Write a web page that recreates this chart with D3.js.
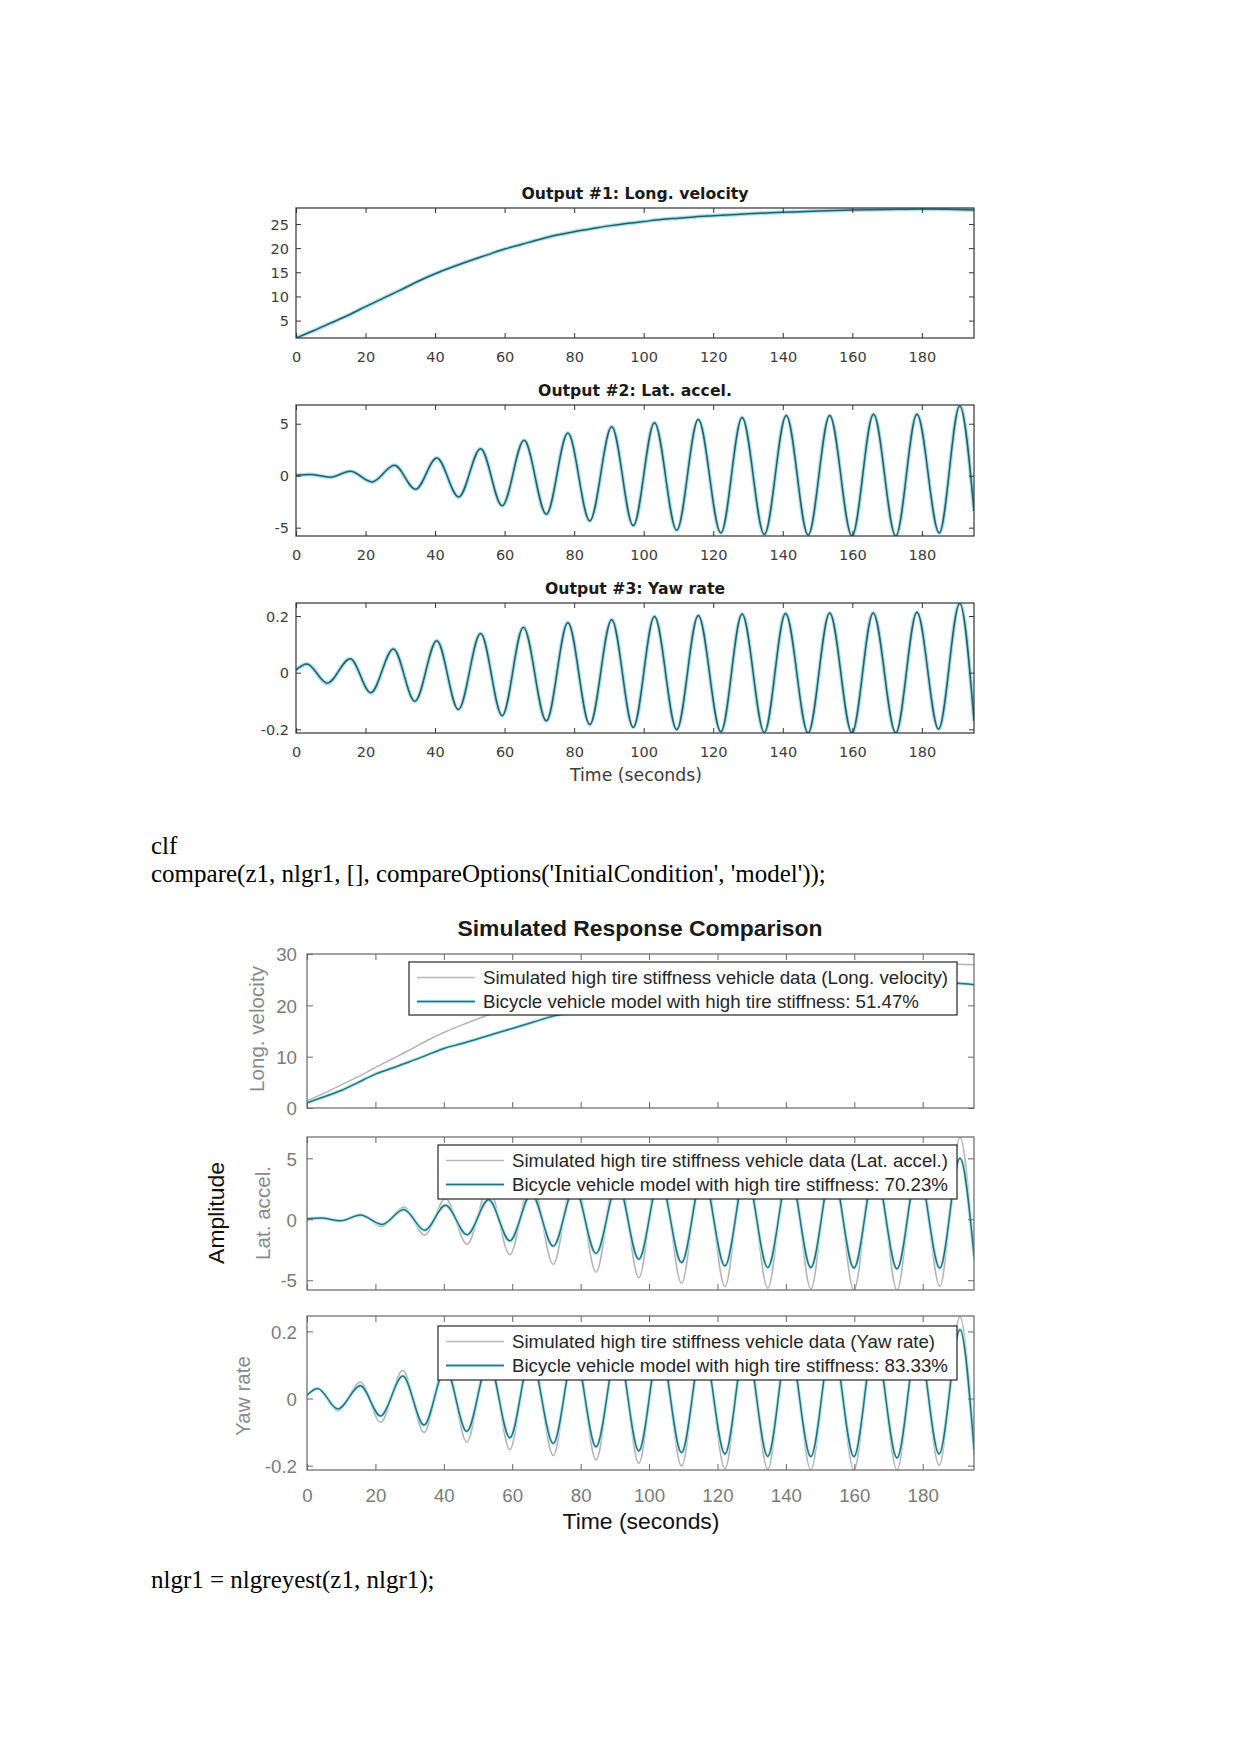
<!DOCTYPE html>
<html><head><meta charset="utf-8">
<script src="https://cdn.jsdelivr.net/npm/d3@7"></script>
<style>body{margin:0;background:#fff}</style>
</head><body>
<svg id="page" width="1240" height="1754" xmlns="http://www.w3.org/2000/svg"></svg>
<script>
// ---------------- data ----------------
const timeTicks = [0, 20, 40, 60, 80, 100, 120, 140, 160, 180];
const velTicksTop = [5, 10, 15, 20, 25];
const velTicksBottom = [0, 10, 20, 30];
const latTicks = [-5, 0, 5];
const yawTicks = [-0.2, 0, 0.2];

// Longitudinal velocity (measured data)
const velTime = [0,5,10,15,20,25,30,35,40,45,50,55,60,65,70,75,80,85,90,95,100,105,110,115,120,125,130,140,150,160,170,180,190,195];
const velData = [1.4,2.9,4.5,6.1,7.9,9.6,11.3,13.1,14.7,16.1,17.4,18.6,19.8,20.8,21.8,22.7,23.4,24.0,24.6,25.1,25.5,25.9,26.2,26.5,26.7,26.9,27.1,27.4,27.7,27.9,28.0,28.1,28.0,27.9];
// Longitudinal velocity (model)
const velModelTime = [0,5,10,15,20,25,30,35,40,45,50,55,60,66,72,80,90,100,110,120,130,140,150,160,170,180,190,195];
const velModel = [1.0,2.2,3.4,5.0,6.6,7.8,9.0,10.3,11.6,12.5,13.5,14.5,15.5,16.7,17.9,19.0,20.2,21.1,21.9,22.5,23.0,23.4,23.7,23.9,24.1,24.2,24.3,24.0];

// Lateral acceleration (extrema)
const latTime = [0,4,9.9,15.6,21.9,28.3,34.4,40.5,46.8,53.1,59.3,65.6,72.0,78.2,84.5,90.8,97.0,103.1,109.5,115.7,122.2,128.3,134.7,141.0,147.3,153.5,159.9,166.1,172.5,178.6,185.0,190.9,195];
const latData = [0.05,0.12,-0.15,0.42,-0.6,1.0,-1.3,1.7,-2.05,2.6,-2.9,3.4,-3.7,4.1,-4.35,4.7,-4.8,5.1,-5.25,5.4,-5.5,5.6,-5.65,5.8,-5.7,5.8,-5.8,5.9,-5.8,5.9,-5.5,6.7,-3.4];
const latModel = [0.05,0.1,-0.12,0.35,-0.42,0.8,-0.9,1.15,-1.26,1.6,-1.77,2.1,-2.2,2.6,-2.8,3.0,-3.28,3.4,-3.55,3.7,-3.82,3.9,-3.95,4.0,-3.95,4.1,-4.0,4.1,-4.06,4.2,-4.0,5.0,-3.0];

// Yaw rate
const yawTime = [0,3.1,9.0,15.6,21.5,28.0,34.2,40.5,46.7,53.1,59.3,65.4,72.0,78.2,84.5,90.8,97.0,103.1,109.5,115.7,122.2,128.3,134.7,140.8,147.3,153.5,159.9,166.0,172.5,178.6,184.8,190.9,195];
const yawData = [0.01,0.031,-0.037,0.049,-0.071,0.084,-0.101,0.113,-0.130,0.138,-0.152,0.160,-0.170,0.176,-0.183,0.187,-0.193,0.198,-0.201,0.202,-0.209,0.207,-0.211,0.209,-0.213,0.211,-0.213,0.211,-0.213,0.213,-0.199,0.244,-0.17];
const yawModel = [0.01,0.030,-0.031,0.038,-0.052,0.067,-0.079,0.09,-0.098,0.11,-0.117,0.125,-0.134,0.14,-0.144,0.15,-0.156,0.158,-0.161,0.163,-0.165,0.168,-0.172,0.17,-0.173,0.172,-0.173,0.173,-0.177,0.175,-0.165,0.205,-0.15];

const topTitles = ["Output #1: Long. velocity", "Output #2: Lat. accel.", "Output #3: Yaw rate"];
const bottomYLabels = ["Long. velocity", "Lat. accel.", "Yaw rate"];
const legendData = ["Simulated high tire stiffness vehicle data (Long. velocity)", "Simulated high tire stiffness vehicle data (Lat. accel.)", "Simulated high tire stiffness vehicle data (Yaw rate)"];
const legendModel = ["Bicycle vehicle model with high tire stiffness: 51.47%", "Bicycle vehicle model with high tire stiffness: 70.23%", "Bicycle vehicle model with high tire stiffness: 83.33%"];

// ---------------- drawing ----------------
const svg = d3.select("#page");
const DEJA = "DejaVu Sans, Liberation Sans, sans-serif";
const ARIAL = "Liberation Sans, Arial, sans-serif";
const SERIF = "Liberation Serif, Times New Roman, serif";
let clipCount = 0;

function drawPanel(cfg) {
  const g = svg.append("g");
  const x = d3.scaleLinear().domain([0, 195]).range([cfg.x0, cfg.x1]);
  const y = d3.scaleLinear().domain(cfg.yDomain).range([cfg.y1, cfg.y0]);
  const cid = "clip" + (clipCount++);
  svg.append("clipPath").attr("id", cid).append("rect")
    .attr("x", cfg.x0).attr("y", cfg.y0).attr("width", cfg.x1 - cfg.x0).attr("height", cfg.y1 - cfg.y0);
  const lg = g.append("g").attr("clip-path", `url(#${cid})`);
  cfg.series.forEach(s => {
    const line = d3.line((d, i) => x(s.t[i]), d => y(d)).curve(d3.curveMonotoneX);
    if (s.halo) lg.append("path").datum(s.v).attr("d", line).attr("fill", "none")
      .attr("stroke", s.halo).attr("stroke-width", s.haloW).attr("stroke-linejoin", "round");
    lg.append("path").datum(s.v).attr("d", line).attr("fill", "none")
      .attr("stroke", s.color).attr("stroke-width", s.width).attr("stroke-linejoin", "round");
  });
  const tl = cfg.tickLen;
  const axStyle = a => {
    a.select(".domain").remove();
    a.selectAll(".tick line").attr("stroke", cfg.frameColor).attr("stroke-width", 1);
    a.selectAll("text").attr("font-family", cfg.font).attr("font-size", cfg.fontSize).attr("fill", cfg.tickColor);
  };
  const fmt = d => String(d);
  const bx = g.append("g").attr("transform", `translate(0,${cfg.y1})`)
    .call(d3.axisBottom(x).tickValues(timeTicks).tickSize(-tl).tickFormat(cfg.showX ? fmt : () => ""));
  axStyle(bx);
  bx.selectAll("text").attr("y", cfg.xLabelOffset).attr("dy", null);
  const tx = g.append("g").attr("transform", `translate(0,${cfg.y0})`)
    .call(d3.axisTop(x).tickValues(timeTicks).tickSize(-tl).tickFormat(() => ""));
  axStyle(tx);
  const ly = g.append("g").attr("transform", `translate(${cfg.x0},0)`)
    .call(d3.axisLeft(y).tickValues(cfg.yTicks).tickSize(-tl).tickFormat(fmt));
  axStyle(ly);
  ly.selectAll("text").attr("x", -cfg.yLabelGap).attr("dy", "0.36em");
  const ry = g.append("g").attr("transform", `translate(${cfg.x1},0)`)
    .call(d3.axisRight(y).tickValues(cfg.yTicks).tickSize(-tl).tickFormat(() => ""));
  axStyle(ry);
  g.append("rect").attr("x", cfg.x0).attr("y", cfg.y0).attr("width", cfg.x1 - cfg.x0).attr("height", cfg.y1 - cfg.y0)
    .attr("fill", "none").attr("stroke", cfg.frameColor).attr("stroke-width", 1.2);
  return {g, x, y};
}

// ----- Top figure -----
const topPanels = [
  {y0: 208, y1: 338, dom: [1.4, 28.3], ticks: velTicksTop, t: velTime, v: velData},
  {y0: 405, y1: 536, dom: [-5.8, 6.8], ticks: latTicks, t: latTime, v: latData},
  {y0: 603, y1: 733, dom: [-0.213, 0.246], ticks: yawTicks, t: yawTime, v: yawData}
];
topPanels.forEach((p, i) => {
  drawPanel({x0: 296, x1: 974, y0: p.y0, y1: p.y1, yDomain: p.dom, yTicks: p.ticks,
    tickLen: 5, showX: true, font: DEJA, fontSize: 14.5, tickColor: "#3c3c3c", frameColor: "#333",
    xLabelOffset: 24, yLabelGap: 7,
    series: [{t: p.t, v: p.v, color: "#2c5a66", width: 1.5, halo: "#a3e2ec", haloW: 4}]});
  svg.append("text").attr("x", 635).attr("y", p.y0 - 9).attr("text-anchor", "middle")
    .attr("font-family", DEJA).attr("font-weight", "bold").attr("font-size", 15.7).attr("fill", "#1a1a1a")
    .text(topTitles[i]);
});
svg.append("text").attr("x", 636).attr("y", 781).attr("text-anchor", "middle")
  .attr("font-family", DEJA).attr("font-size", 17.3).attr("fill", "#3c3c3c").text("Time (seconds)");

// ----- Code text -----
const codeStyle = s => s.attr("font-family", SERIF).attr("font-size", 25).attr("fill", "#000");
codeStyle(svg.append("text").attr("x", 151).attr("y", 854).text("clf"));
codeStyle(svg.append("text").attr("x", 151).attr("y", 882).text("compare(z1, nlgr1, [], compareOptions('InitialCondition', 'model'));"));
codeStyle(svg.append("text").attr("x", 151).attr("y", 1588).text("nlgr1 = nlgreyest(z1, nlgr1);"));

// ----- Bottom figure -----
svg.append("text").attr("x", 640).attr("y", 936).attr("text-anchor", "middle")
  .attr("font-family", ARIAL).attr("font-weight", "bold").attr("font-size", 22.9).attr("fill", "#1a1a1a")
  .text("Simulated Response Comparison");

const bottomPanels = [
  {y0: 954, y1: 1108, dom: [0, 30], ticks: velTicksBottom, dt: velTime, dv: velData, mt: velModelTime, mv: velModel,
   leg: {x0: 409, x1: 957, y0: 962, y1: 1015}, labX: 264, labY: 1029},
  {y0: 1137, y1: 1290, dom: [-5.8, 6.75], ticks: latTicks, dt: latTime, dv: latData, mt: latTime, mv: latModel,
   leg: {x0: 438, x1: 957, y0: 1145, y1: 1199}, labX: 270, labY: 1213},
  {y0: 1316, y1: 1470, dom: [-0.213, 0.246], ticks: yawTicks, dt: yawTime, dv: yawData, mt: yawTime, mv: yawModel,
   leg: {x0: 438, x1: 957, y0: 1326, y1: 1380}, labX: 250, labY: 1396}
];
bottomPanels.forEach((p, i) => {
  drawPanel({x0: 307, x1: 974, y0: p.y0, y1: p.y1, yDomain: p.dom, yTicks: p.ticks,
    tickLen: 6, showX: i === 2, font: ARIAL, fontSize: 18.7, tickColor: "#7a7a7a", frameColor: "#666",
    xLabelOffset: 32, yLabelGap: 10,
    series: [
      {t: p.dt, v: p.dv, color: "#b4b4b4", width: 1.5},
      {t: p.mt, v: p.mv, color: "#2b6f7e", width: 1.5, halo: "#b5e9f0", haloW: 3.6}
    ]});
  // y label
  svg.append("text").attr("transform", `translate(${p.labX},${p.labY}) rotate(-90)`).attr("text-anchor", "middle")
    .attr("font-family", ARIAL).attr("font-size", 20.6).attr("fill", "#8a8a8a").text(bottomYLabels[i]);
  // legend
  const L = p.leg;
  const lg = svg.append("g");
  lg.append("rect").attr("x", L.x0).attr("y", L.y0).attr("width", L.x1 - L.x0).attr("height", L.y1 - L.y0)
    .attr("fill", "#fff").attr("stroke", "#262626").attr("stroke-width", 1.2);
  const r1 = L.y0 + 15.5, r2 = L.y0 + 39.5;
  const sx0 = L.x0 + 8, sx1 = L.x0 + 66, tx = L.x0 + 74;
  lg.append("line").attr("x1", sx0).attr("x2", sx1).attr("y1", r1).attr("y2", r1).attr("stroke", "#b8b8b8").attr("stroke-width", 1.6);
  lg.append("line").attr("x1", sx0).attr("x2", sx1).attr("y1", r2).attr("y2", r2).attr("stroke", "#b5e9f0").attr("stroke-width", 3.6);
  lg.append("line").attr("x1", sx0).attr("x2", sx1).attr("y1", r2).attr("y2", r2).attr("stroke", "#2b6f7e").attr("stroke-width", 1.5);
  [[legendData[i], r1], [legendModel[i], r2]].forEach(([txt, ry]) => {
    lg.append("text").attr("x", tx).attr("y", ry).attr("dy", "0.36em")
      .attr("font-family", ARIAL).attr("font-size", 18.7).attr("fill", "#262626").text(txt);
  });
});
svg.append("text").attr("transform", "translate(224,1213) rotate(-90)").attr("text-anchor", "middle")
  .attr("font-family", ARIAL).attr("font-size", 22.9).attr("fill", "#111").text("Amplitude");
svg.append("text").attr("x", 641).attr("y", 1529).attr("text-anchor", "middle")
  .attr("font-family", ARIAL).attr("font-size", 22.9).attr("fill", "#111").text("Time (seconds)");
</script>
</body></html>
